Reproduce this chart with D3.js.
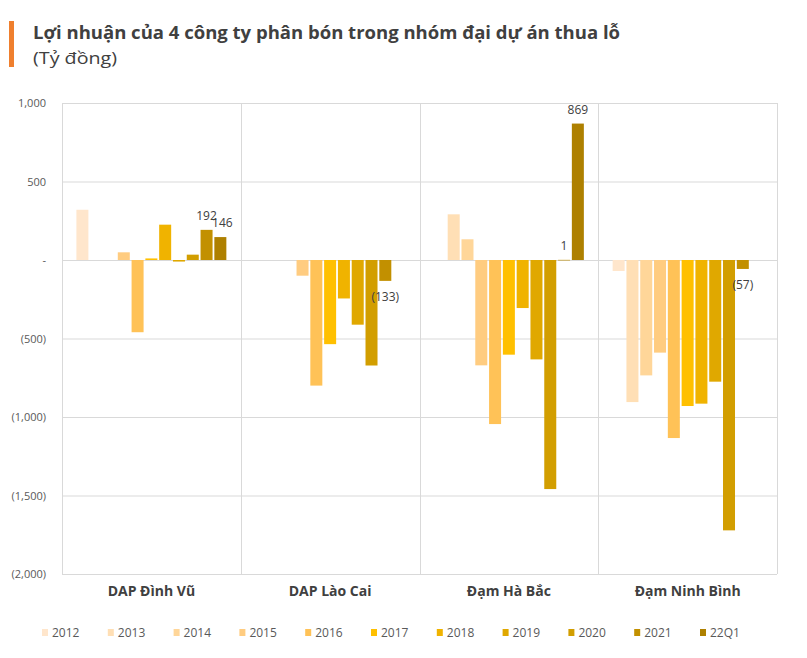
<!DOCTYPE html>
<html>
<head>
<meta charset="utf-8">
<script src="https://cdn.jsdelivr.net/npm/d3@7"></script>
<style>
  html, body { margin: 0; padding: 0; background: #ffffff; }
  svg { display: block; }
</style>
</head>
<body>
<svg id="chart" width="807" height="658"></svg>
<script>
// ---- data ----
const categories = ["DAP Đình Vũ", "DAP Lào Cai", "Đạm Hà Bắc", "Đạm Ninh Bình"];
const seriesNames = ["2012", "2013", "2014", "2015", "2016", "2017", "2018", "2019", "2020", "2021", "22Q1"];
const v2012 = [320, null, null, -70];
const v2013 = [null, null, 291, -905];
const v2014 = [null, null, 132, -735];
const v2015 = [49, -100, -671, -590];
const v2016 = [-460, -800, -1045, -1134];
const v2017 = [10, -536, -603, -930];
const v2018 = [225, -245, -306, -915];
const v2019 = [-10, -412, -633, -775];
const v2020 = [34, -672, -1459, -1722];
const v2021 = [192, -133, 1, -57];
const v22Q1 = [146, null, 869, null];
const seriesValues = [v2012, v2013, v2014, v2015, v2016, v2017, v2018, v2019, v2020, v2021, v22Q1];
const colors = ["#FFE6CC", "#FFDFB5", "#FFD699", "#FFCC80", "#FFC257", "#FFC000", "#F0B300", "#E0A800", "#D29E00", "#C29000", "#AE8000"];
const labelledSeries = ["2021", "22Q1"];
const yTicks = [1000, 500, 0, -500, -1000, -1500, -2000];

// ---- layout ----
const svg = d3.select("#chart");
const plot = { left: 62, right: 777, top: 103, bottom: 574 };

const x0 = d3.scaleBand().domain(categories).range([plot.left, plot.right]).padding(0);
const gw = x0.bandwidth();
const x1 = d3.scaleBand().domain(seriesNames).range([13.5, gw - 13.5]).paddingInner(0.13).paddingOuter(0.065);
const y = d3.scaleLinear().domain([-2000, 1000]).range([plot.bottom, plot.top]);
const color = d3.scaleOrdinal().domain(seriesNames).range(colors);

const fmt = v => {
  if (v === 0) return "-";
  const s = d3.format(",")(Math.abs(v));
  return v < 0 ? "(" + s + ")" : s;
};

// title block
svg.append("rect").attr("x", 9).attr("y", 21).attr("width", 5).attr("height", 46).attr("fill", "#EF7F2E");
svg.append("text").attr("x", 33).attr("y", 39)
  .attr("font-family", "'Open Sans', sans-serif").attr("font-weight", "bold").attr("font-size", 17)
  .attr("fill", "#404040").attr("textLength", 587).attr("lengthAdjust", "spacingAndGlyphs")
  .text("Lợi nhuận của 4 công ty phân bón trong nhóm đại dự án thua lỗ");
svg.append("text").attr("x", 33).attr("y", 64)
  .attr("font-family", "'Open Sans', sans-serif").attr("font-size", 16)
  .attr("fill", "#404040").attr("textLength", 84).attr("lengthAdjust", "spacingAndGlyphs")
  .text("(Tỷ đồng)");

// gridlines
const grid = svg.append("g");
grid.selectAll("line.h").data(yTicks).join("line")
  .attr("x1", plot.left).attr("x2", plot.right)
  .attr("y1", d => y(d) + 0.5).attr("y2", d => y(d) + 0.5)
  .attr("stroke", "#D9D9D9").attr("stroke-width", 1);
const seps = categories.map(c => x0(c)).concat([plot.right]);
grid.selectAll("line.v").data(seps).join("line")
  .attr("x1", d => Math.round(d) + 0.5).attr("x2", d => Math.round(d) + 0.5)
  .attr("y1", plot.top).attr("y2", plot.bottom)
  .attr("stroke", "#D9D9D9").attr("stroke-width", 1);

// y axis labels
const yAxis = d3.axisLeft(y).tickValues(yTicks).tickFormat(fmt).tickSize(0).tickPadding(0);
const ya = svg.append("g").attr("transform", "translate(46,0)").call(yAxis);
ya.select(".domain").remove();
ya.selectAll("text").attr("font-family", "'Open Sans', sans-serif").attr("font-size", 11).attr("fill", "#595959");

// x axis labels
const xAxis = d3.axisBottom(x0).tickSize(0).tickPadding(0);
const xa = svg.append("g").attr("transform", "translate(0,586)").call(xAxis);
xa.select(".domain").remove();
xa.selectAll("text").attr("font-family", "'Open Sans', sans-serif").attr("font-size", 14)
  .attr("font-weight", "bold").attr("fill", "#404040");

// bars
const flat = [];
seriesNames.forEach((s, si) => {
  categories.forEach((c, ci) => {
    const v = seriesValues[si][ci];
    if (v !== null) flat.push({ s, c, v });
  });
});
svg.append("g").selectAll("rect").data(flat).join("rect")
  .attr("x", d => x0(d.c) + x1(d.s))
  .attr("width", x1.bandwidth())
  .attr("y", d => y(Math.max(0, d.v)))
  .attr("height", d => Math.max(Math.abs(y(d.v) - y(0)), 0.6))
  .attr("fill", d => color(d.s));

// data labels
svg.append("g").selectAll("text").data(flat.filter(d => labelledSeries.includes(d.s))).join("text")
  .attr("x", d => x0(d.c) + x1(d.s) + x1.bandwidth() / 2 + (d.s === "22Q1" && d.v < 300 ? 2 : 0))
  .attr("y", d => d.v >= 0 ? y(d.v) - 10 : y(d.v) + 20)
  .attr("text-anchor", "middle")
  .attr("font-family", "'Open Sans', sans-serif").attr("font-size", 12).attr("fill", "#404040")
  .text(d => fmt(d.v));

// legend
const lg = svg.append("g").attr("transform", "translate(42,0)");
const items = lg.selectAll("g").data(seriesNames).join("g")
  .attr("transform", (d, i) => `translate(${i * 65.8},0)`);
items.append("rect").attr("x", 0).attr("y", 629).attr("width", 6).attr("height", 7).attr("fill", d => color(d));
items.append("text").attr("x", 10).attr("y", 636.5)
  .attr("font-family", "'Open Sans', sans-serif").attr("font-size", 12).attr("fill", "#595959")
  .text(d => d);
</script>
</body>
</html>
